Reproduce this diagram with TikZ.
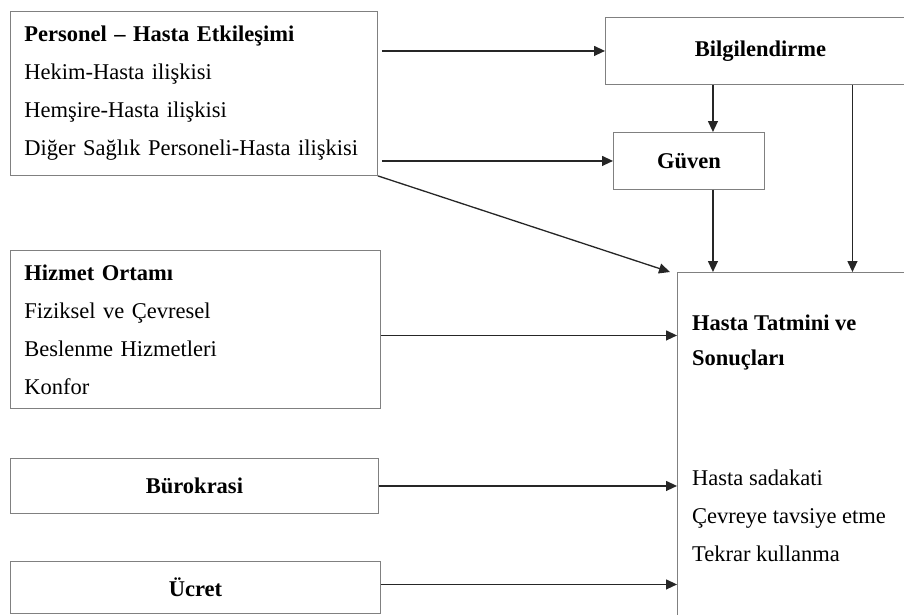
\documentclass[tikz,border=0pt]{standalone}
\usepackage{fontspec}
\setmainfont{Liberation Serif}
\usetikzlibrary{arrows.meta,positioning,calc}
\colorlet{myframe}{black!50}
\colorlet{myarrow}{black!85}
\tikzset{
	block/.style={
		rectangle, draw=myframe, line width=0.9pt,
		inner xsep=14pt, inner ysep=0pt,
		anchor=north west,
		font=\fontsize{22.5}{38}\selectfont,
	},
	line/.style={
		draw=myarrow, line width=1.3pt, -{Triangle[length=11pt,width=10pt]},
	}
}

\begin{document}
\begin{tikzpicture}[x=1pt, y=-1pt]
	\useasboundingbox (0,0) rectangle (904,614);
	\clip (0,0) rectangle (904,614);
	% Left boxes
	\node [block, text width=339, minimum height=164, align=left] (personel) at (10,11)
	{\textbf{Personel – Hasta Etkileşimi}\\Hekim-Hasta ilişkisi\\Hemşire-Hasta ilişkisi\\Diğer Sağlık Personeli-Hasta ilişkisi};
	\node [block, text width=342, minimum height=158, align=left] (hizmet) at (10,250)
	{\textbf{Hizmet Ortamı}\\Fiziksel ve Çevresel\\Beslenme Hizmetleri\\Konfor};
	\node [block, text width=340, minimum height=55, align=center, font=\fontsize{22.5}{38}\selectfont\bfseries] (buro) at (10,458) {Bürokrasi};
	\node [block, text width=342, minimum height=52, align=center, font=\fontsize{22.5}{38}\selectfont\bfseries] (ucret) at (10,561) {Ücret};
	% Right boxes
	\node [block, text width=282, minimum height=67, align=center, font=\fontsize{22.5}{38}\selectfont\bfseries] (bilgi) at (605,17) {Bilgilendirme};
	\node [block, text width=123, minimum height=57, align=center, font=\fontsize{22.5}{38}\selectfont\bfseries] (guven) at (613,132) {Güven};
	\node [block, minimum width=250, minimum height=360] (hasta) at (677,272) {};
	\node [anchor=north west, inner sep=0pt, align=left, font=\fontsize{22.5}{38}\selectfont] (sonuc) at ([xshift=15pt, yshift=-43pt]hasta.north west)
	{\textbf{Hasta Tatmini ve}\\[-3pt]\textbf{Sonuçları}\\[82pt]Hasta sadakati\\Çevreye tavsiye etme\\Tekrar kullanma};
	% Arrows
	\draw [line, shorten <=4pt] (personel.east |- bilgi.west) -- (bilgi.west);
	\draw [line, shorten <=4pt] (personel.east |- guven.west) -- (guven.west);
	\draw [line] (personel.south east) -- ([xshift=-7pt]hasta.north west);
	\draw [line] ([yshift=-6pt]hizmet.east) -- ([yshift=-6pt]hizmet.east -| hasta.west);
	\draw [line] (buro.east) -- (buro.east -| hasta.west);
	\draw [line] ([yshift=3pt]ucret.east) -- ([yshift=3pt]ucret.east -| hasta.west);
	\draw [line] ([xshift=24pt]guven.north |- bilgi.south) -- ([xshift=24pt]guven.north);
	\draw [line] ([xshift=24pt]guven.south) -- ([xshift=24pt]guven.south |- hasta.north);
	\draw [line] ([xshift=92pt]bilgi.south) -- ([xshift=92pt]bilgi.south |- hasta.north);
\end{tikzpicture}
\end{document}
